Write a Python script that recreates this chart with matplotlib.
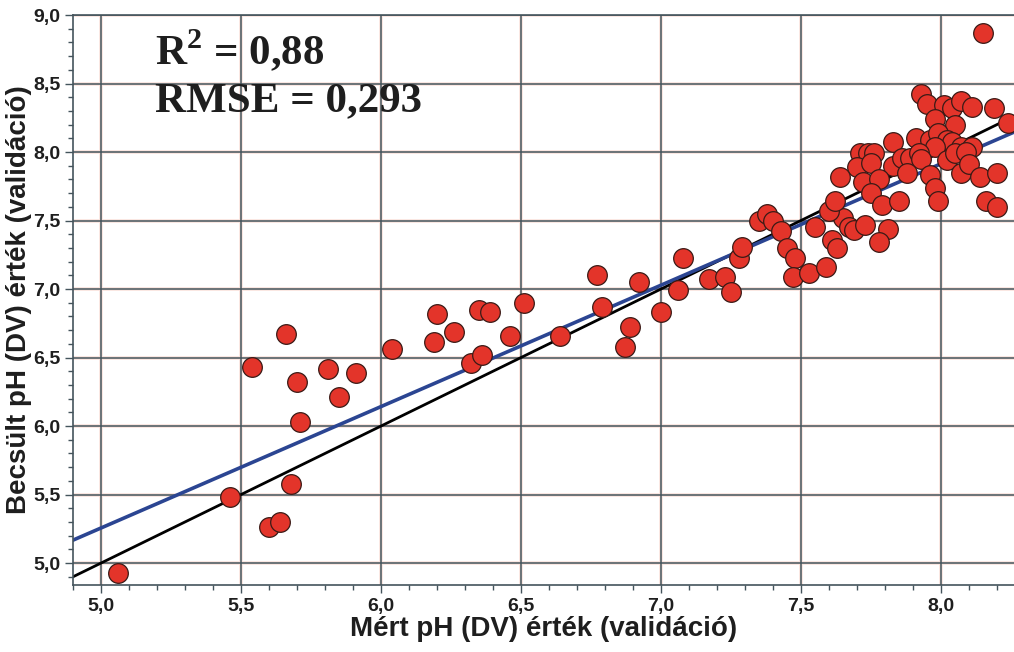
#!/usr/bin/env python3
"""Measured vs. estimated pH (DV), validation set scatter with 1:1 and fitted line."""

import matplotlib
matplotlib.use("Agg")
import matplotlib.pyplot as plt

# ── Data ────────────────────────────────────────────────────────────
measured_ph = [
    5.06, 5.46, 5.60, 5.64, 5.68, 5.66, 5.54, 5.70, 5.81, 5.91,
    5.85, 5.71, 6.04, 6.20, 6.19, 6.26, 6.35, 6.39, 6.46, 6.51,
    6.32, 6.36, 6.64, 6.77, 6.79, 6.89, 6.87, 6.92, 7.00, 7.06,
    7.08, 7.17, 7.23, 7.25, 7.28, 7.29, 7.35, 7.38, 7.40, 7.43,
    7.45, 7.48, 7.47, 7.53, 7.59, 7.55, 7.61, 7.63, 7.65, 7.67,
    7.69, 7.73, 7.60, 7.62, 7.81, 7.78,
    8.15, 7.93, 7.95, 8.01, 8.04, 8.07, 8.11, 8.19, 8.24, 7.98,
    8.05, 7.83, 7.91, 7.96, 7.99, 8.02, 8.04, 7.98, 8.07, 8.11,
    7.71, 7.74, 7.76, 7.70, 7.75, 7.83, 7.86, 7.89, 7.92, 7.93,
    7.96, 8.02, 8.05, 8.09, 8.07, 8.10, 8.14, 8.20, 7.64, 7.72,
    7.78, 7.88, 7.98, 7.99, 8.16, 8.20, 7.75, 7.79, 7.85,
]
estimated_ph = [
    4.93, 5.48, 5.26, 5.30, 5.58, 6.67, 6.43, 6.32, 6.42, 6.39,
    6.21, 6.03, 6.56, 6.82, 6.61, 6.69, 6.85, 6.83, 6.66, 6.90,
    6.46, 6.52, 6.66, 7.10, 6.87, 6.72, 6.58, 7.05, 6.83, 6.99,
    7.23, 7.07, 7.09, 6.98, 7.23, 7.31, 7.50, 7.55, 7.50, 7.42,
    7.30, 7.23, 7.09, 7.12, 7.16, 7.45, 7.36, 7.30, 7.52, 7.45,
    7.43, 7.47, 7.57, 7.64, 7.44, 7.34,
    8.87, 8.42, 8.35, 8.34, 8.32, 8.37, 8.33, 8.32, 8.21, 8.24,
    8.20, 8.07, 8.10, 8.09, 8.14, 8.09, 8.07, 8.04, 8.04, 8.04,
    7.99, 7.99, 7.99, 7.89, 7.92, 7.90, 7.96, 7.96, 7.99, 7.95,
    7.83, 7.94, 7.99, 8.00, 7.85, 7.91, 7.82, 7.85, 7.82, 7.78,
    7.80, 7.85, 7.74, 7.64, 7.64, 7.60, 7.70, 7.61, 7.64,
]

# fitted regression line
fit_slope = 0.886
fit_intercept = 0.826

x_ticks = [5.0, 5.5, 6.0, 6.5, 7.0, 7.5, 8.0]
x_tick_labels = ["5,0", "5,5", "6,0", "6,5", "7,0", "7,5", "8,0"]
y_ticks = [5.0, 5.5, 6.0, 6.5, 7.0, 7.5, 8.0, 8.5, 9.0]
y_tick_labels = ["5,0", "5,5", "6,0", "6,5", "7,0", "7,5", "8,0", "8,5", "9,0"]

r2_text = "0,88"
rmse_text = "0,293"

x_label = "Mért pH (DV) érték (validáció)"
y_label = "Becsült pH (DV) érték (validáció)"


def main() -> None:
    plt.rcParams["font.family"] = ["Liberation Sans", "DejaVu Sans"]
    plt.rcParams["mathtext.fontset"] = "custom"
    plt.rcParams["mathtext.rm"] = "Liberation Serif:bold"
    plt.rcParams["mathtext.bf"] = "Liberation Serif:bold"

    fig = plt.figure(figsize=(10.14, 6.52), dpi=100)
    ax = fig.add_axes([73 / 1014, 67 / 652, 941 / 1014, 570 / 652])

    xlim = (4.9, 8.261)
    ylim = (4.84, 9.0)
    ax.set_xlim(*xlim)
    ax.set_ylim(*ylim)

    grid_col = "#44545c"
    halo_col = "#f9e2dc"
    # printed-look grid: faint pinkish halo under a dark slate line
    for v in x_ticks:
        ax.axvline(v, color=halo_col, lw=2.6, zorder=0.5)
        ax.axvline(v, color=grid_col, lw=1.1, zorder=0.6)
    for v in y_ticks:
        ax.axhline(v, color=halo_col, lw=2.6, zorder=0.5)
        ax.axhline(v, color=grid_col, lw=1.1, zorder=0.6)

    # 1:1 line
    ax.plot(xlim, xlim, color="black", lw=2.0, zorder=2)
    # fitted line
    fx = list(xlim)
    fy = [fit_intercept + fit_slope * v for v in fx]
    ax.plot(fx, fy, color="#2b4592", lw=2.6, zorder=2.1)

    ax.scatter(measured_ph, estimated_ph, s=200, color="#e3342a",
               edgecolors="#3a1a16", linewidths=0.9, zorder=3)

    ax.set_xticks(x_ticks)
    ax.set_xticklabels(x_tick_labels)
    ax.set_yticks(y_ticks)
    ax.set_yticklabels(y_tick_labels)
    ax.set_xticks([v / 10 for v in range(49, 83)], minor=True)
    ax.set_yticks([v / 10 for v in range(49, 91)], minor=True)

    ax.tick_params(which="major", direction="out", length=6, width=1.0,
                   color=grid_col, labelsize=14, pad=3, labelcolor="#1e1e1e")
    ax.tick_params(which="minor", direction="out", length=3.5, width=1.0,
                   color=grid_col)
    for lab in ax.get_xticklabels() + ax.get_yticklabels():
        lab.set_fontweight("bold")

    for side in ("left", "bottom", "top"):
        ax.spines[side].set_color(grid_col)
        ax.spines[side].set_linewidth(1.2)
    ax.spines["right"].set_visible(False)

    ax.set_xlabel(x_label, fontsize=20, fontweight="bold", color="#1e1e1e",
                  labelpad=1)
    ax.set_ylabel(y_label, fontsize=20, fontweight="bold", color="#1e1e1e",
                  labelpad=1)

    fig.text(155 / 1014, 1 - 28 / 652, "R$^{2}$ = " + r2_text,
             fontsize=31, fontweight="bold", family="Liberation Serif",
             va="top", ha="left", color="#1e1e1e")
    fig.text(155 / 1014, 1 - 82 / 652, "RMSE = " + rmse_text,
             fontsize=31, fontweight="bold", family="Liberation Serif",
             va="top", ha="left", color="#1e1e1e")

    fig.savefig("out.png", dpi=100)
    plt.close(fig)


if __name__ == "__main__":
    main()
